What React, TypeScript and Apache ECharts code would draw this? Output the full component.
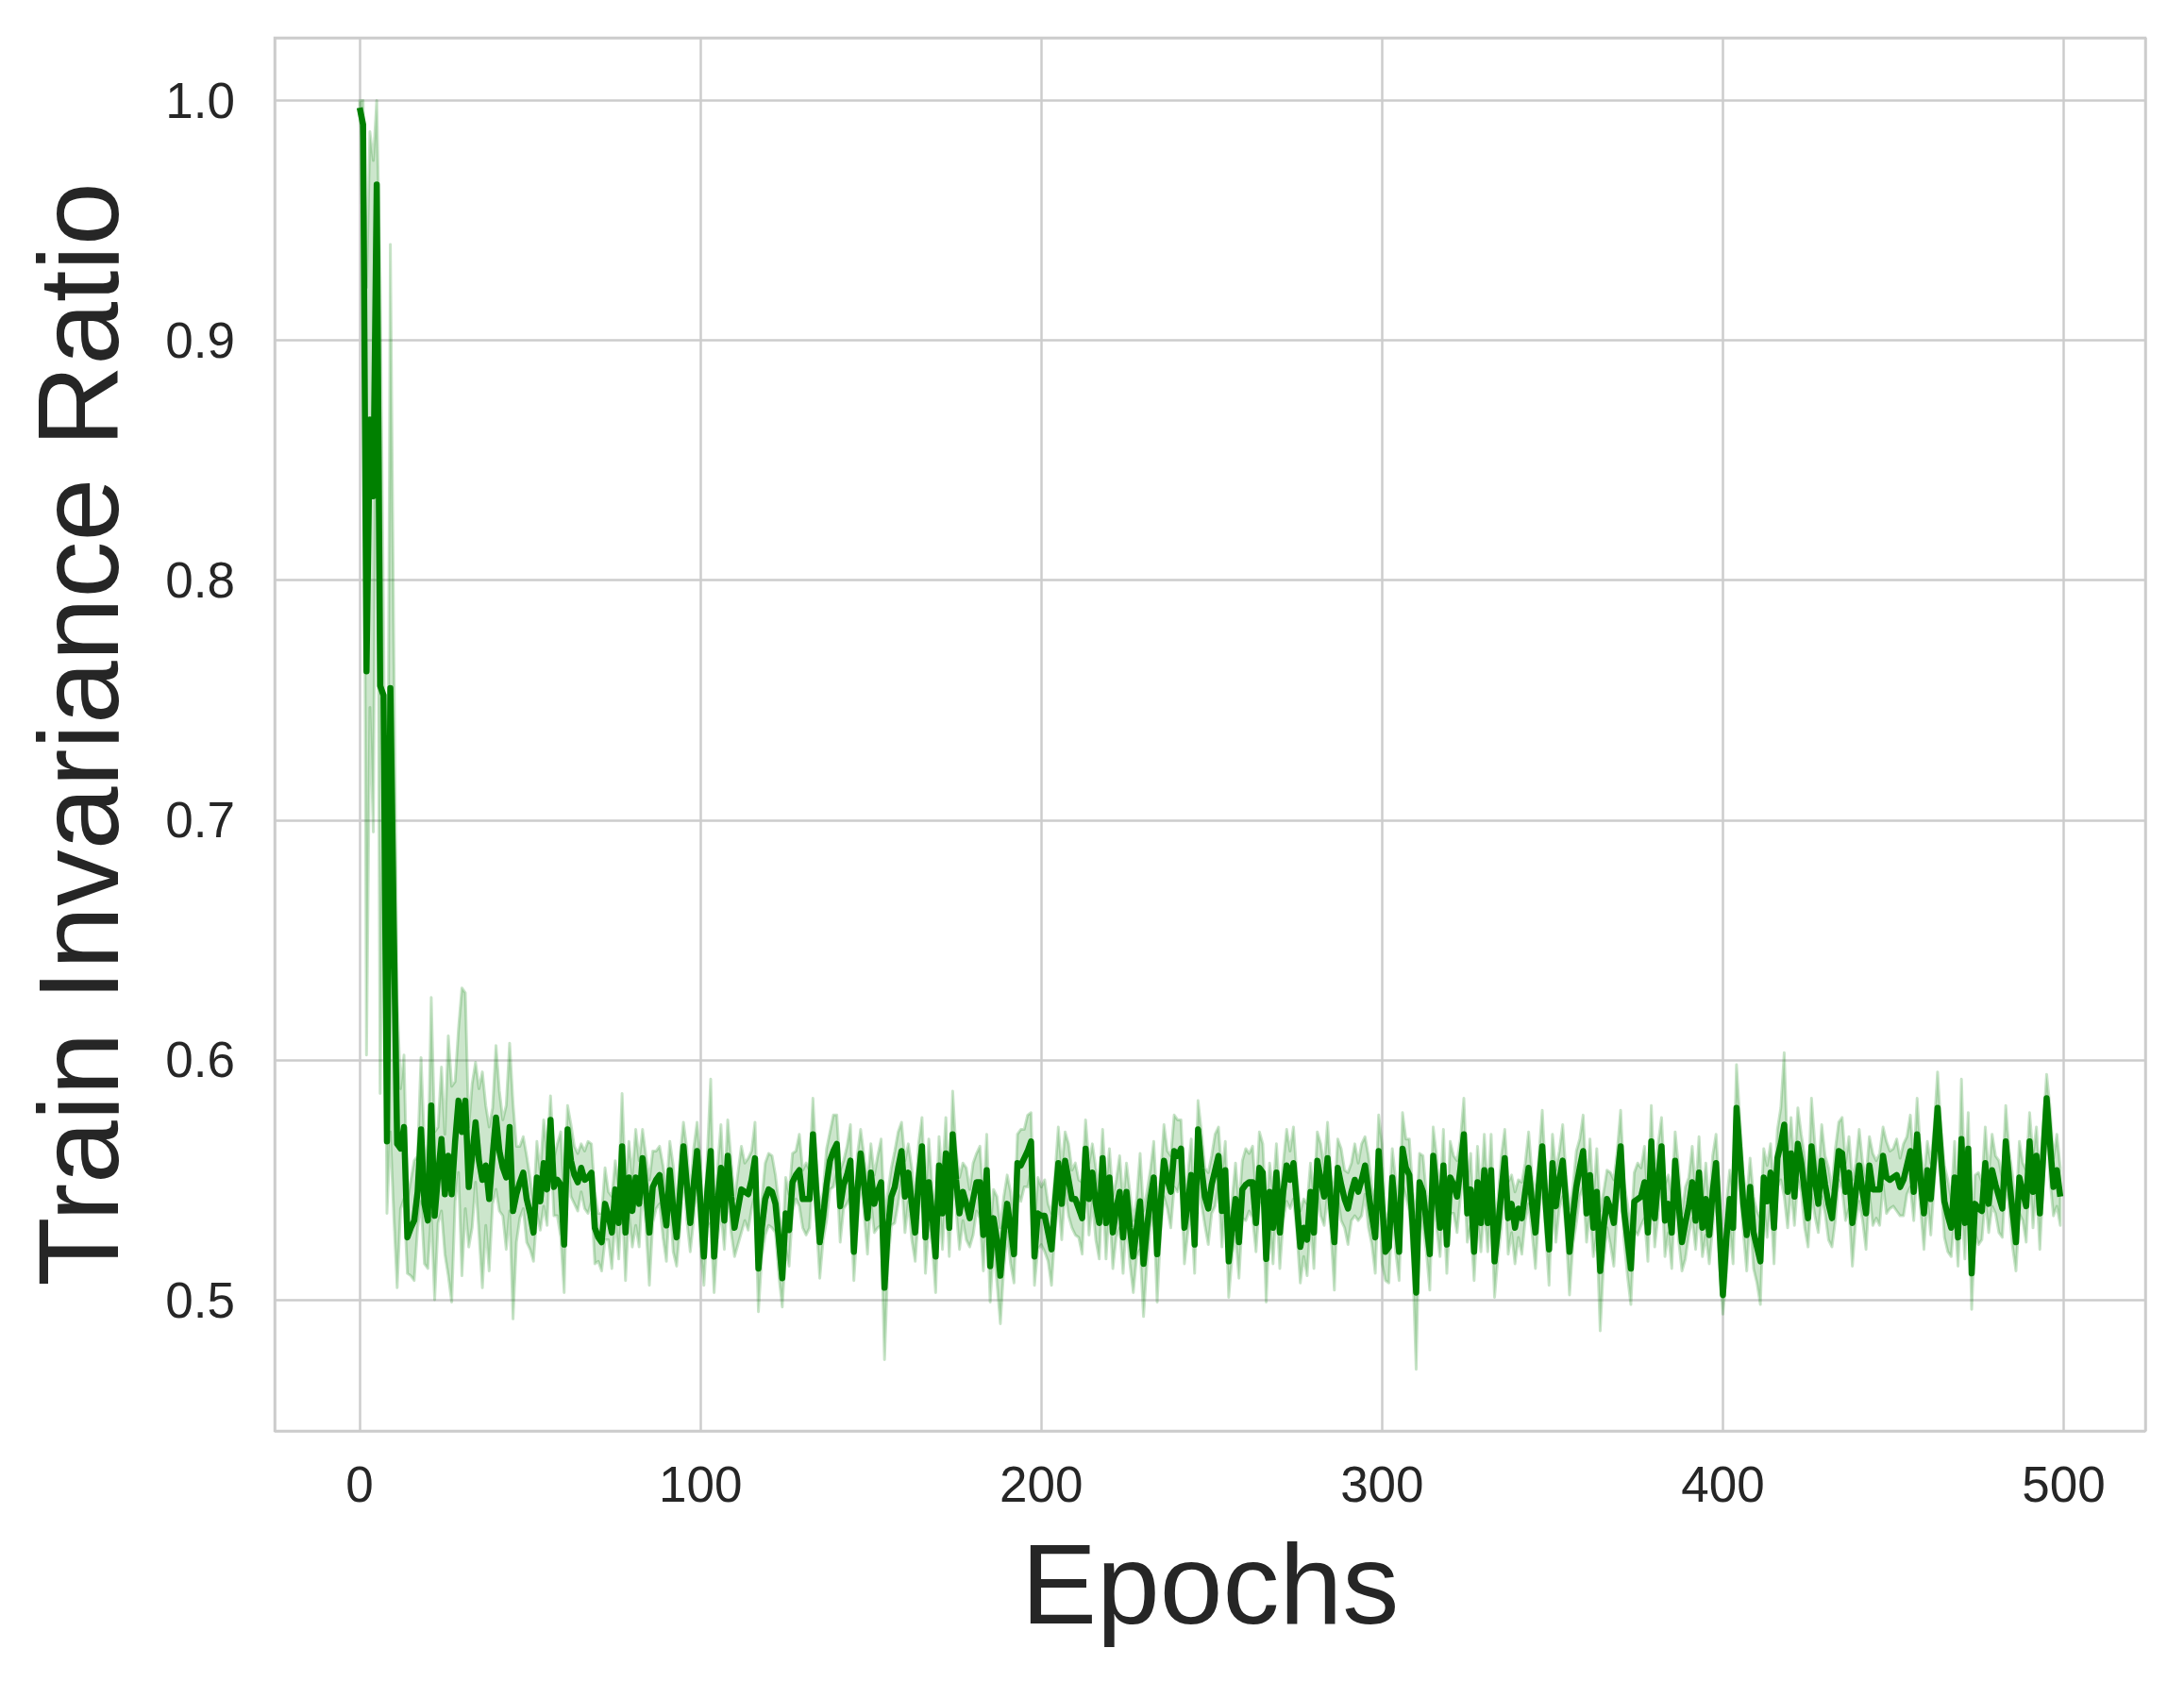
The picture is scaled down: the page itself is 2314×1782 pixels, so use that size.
import React, { useEffect, useRef } from "react";
import * as echarts from "echarts";

// Mean train invariance ratio per epoch (epoch = index, 0..499)
const meanRatio: number[] = [
  0.997, 0.990, 0.762, 0.867, 0.835, 0.965, 0.756, 0.752, 0.566, 0.755,
  0.655, 0.565, 0.563, 0.572, 0.526, 0.530, 0.533, 0.545, 0.571, 0.540,
  0.533, 0.581, 0.535, 0.552, 0.567, 0.544, 0.560, 0.544, 0.566, 0.583,
  0.570, 0.583, 0.547, 0.560, 0.574, 0.558, 0.550, 0.556, 0.542, 0.560,
  0.576, 0.562, 0.555, 0.551, 0.572, 0.537, 0.544, 0.549, 0.553, 0.542,
  0.536, 0.528, 0.551, 0.541, 0.557, 0.546, 0.575, 0.547, 0.550, 0.548,
  0.523, 0.571, 0.558, 0.552, 0.549, 0.555, 0.550, 0.551, 0.553, 0.530,
  0.526, 0.524, 0.540, 0.535, 0.528, 0.546, 0.532, 0.564, 0.528, 0.551,
  0.537, 0.551, 0.540, 0.559, 0.545, 0.528, 0.547, 0.550, 0.552, 0.541,
  0.531, 0.554, 0.538, 0.526, 0.545, 0.564, 0.548, 0.532, 0.548, 0.562,
  0.540, 0.518, 0.545, 0.562, 0.518, 0.540, 0.555, 0.533, 0.560, 0.543,
  0.530, 0.538, 0.546, 0.545, 0.544, 0.550, 0.559, 0.513, 0.530, 0.542,
  0.546, 0.545, 0.540, 0.525, 0.509, 0.536, 0.529, 0.549, 0.552, 0.554,
  0.542, 0.542, 0.542, 0.569, 0.545, 0.524, 0.535, 0.548, 0.558, 0.562,
  0.565, 0.539, 0.548, 0.552, 0.558, 0.520, 0.545, 0.561, 0.548, 0.534,
  0.553, 0.540, 0.545, 0.549, 0.505, 0.530, 0.543, 0.547, 0.555, 0.562,
  0.543, 0.553, 0.540, 0.528, 0.550, 0.564, 0.526, 0.549, 0.535, 0.518,
  0.556, 0.536, 0.561, 0.530, 0.569, 0.550, 0.536, 0.545, 0.540, 0.534,
  0.542, 0.549, 0.549, 0.527, 0.554, 0.514, 0.534, 0.525, 0.510, 0.528,
  0.540, 0.530, 0.519, 0.557, 0.556, 0.559, 0.562, 0.566, 0.518, 0.536,
  0.535, 0.535, 0.528, 0.521, 0.540, 0.557, 0.540, 0.558, 0.550, 0.542,
  0.542, 0.538, 0.534, 0.563, 0.542, 0.553, 0.540, 0.532, 0.559, 0.532,
  0.551, 0.528, 0.538, 0.545, 0.526, 0.545, 0.530, 0.518, 0.530, 0.541,
  0.515, 0.530, 0.542, 0.551, 0.519, 0.540, 0.558, 0.550, 0.545, 0.562,
  0.560, 0.563, 0.530, 0.540, 0.552, 0.523, 0.571, 0.555, 0.543, 0.538,
  0.548, 0.554, 0.560, 0.537, 0.554, 0.516, 0.530, 0.542, 0.524, 0.546,
  0.548, 0.549, 0.549, 0.532, 0.555, 0.553, 0.517, 0.545, 0.530, 0.553,
  0.528, 0.545, 0.556, 0.550, 0.557, 0.540, 0.522, 0.530, 0.525, 0.545,
  0.528, 0.558, 0.550, 0.543, 0.559, 0.540, 0.524, 0.555, 0.548, 0.542,
  0.538, 0.545, 0.550, 0.545, 0.550, 0.556, 0.545, 0.535, 0.526, 0.562,
  0.540, 0.520, 0.522, 0.551, 0.535, 0.520, 0.563, 0.555, 0.552, 0.530,
  0.503, 0.549, 0.545, 0.532, 0.519, 0.560, 0.545, 0.530, 0.556, 0.523,
  0.551, 0.548, 0.543, 0.555, 0.569, 0.536, 0.546, 0.520, 0.549, 0.532,
  0.554, 0.532, 0.554, 0.516, 0.530, 0.545, 0.559, 0.534, 0.540, 0.530,
  0.538, 0.534, 0.545, 0.555, 0.540, 0.528, 0.548, 0.564, 0.540, 0.521,
  0.557, 0.539, 0.550, 0.558, 0.540, 0.520, 0.535, 0.547, 0.555, 0.562,
  0.536, 0.552, 0.530, 0.545, 0.512, 0.530, 0.542, 0.538, 0.532, 0.550,
  0.564, 0.537, 0.525, 0.513, 0.541, 0.542, 0.543, 0.549, 0.528, 0.566,
  0.534, 0.550, 0.564, 0.533, 0.540, 0.528, 0.558, 0.540, 0.524, 0.532,
  0.539, 0.549, 0.533, 0.553, 0.530, 0.542, 0.527, 0.545, 0.557, 0.530,
  0.502, 0.525, 0.542, 0.530, 0.580, 0.560, 0.540, 0.527, 0.547, 0.528,
  0.522, 0.516, 0.551, 0.541, 0.553, 0.530, 0.559, 0.565, 0.573, 0.545,
  0.561, 0.543, 0.565, 0.557, 0.545, 0.534, 0.564, 0.550, 0.540, 0.558,
  0.548, 0.540, 0.534, 0.548, 0.562, 0.561, 0.545, 0.553, 0.532, 0.545,
  0.556, 0.545, 0.536, 0.556, 0.546, 0.546, 0.546, 0.560, 0.551, 0.550,
  0.551, 0.552, 0.547, 0.550, 0.556, 0.562, 0.545, 0.569, 0.550, 0.536,
  0.554, 0.542, 0.560, 0.580, 0.560, 0.541, 0.535, 0.530, 0.551, 0.526,
  0.567, 0.532, 0.563, 0.511, 0.540, 0.538, 0.537, 0.557, 0.540, 0.554,
  0.548, 0.543, 0.538, 0.566, 0.550, 0.537, 0.524, 0.551, 0.545, 0.539,
  0.566, 0.545, 0.560, 0.536, 0.560, 0.584, 0.565, 0.547, 0.554, 0.543,
];

// Half-width of the shaded confidence band per epoch
const ciHalf: number[] = [
  0.003, 0.010, 0.160, 0.120, 0.140, 0.035, 0.170, 0.030, 0.030, 0.185,
  0.120, 0.060, 0.025, 0.030, 0.015, 0.020, 0.025, 0.015, 0.030, 0.025,
  0.020, 0.045, 0.035, 0.020, 0.030, 0.025, 0.050, 0.045, 0.025, 0.030,
  0.060, 0.045, 0.025, 0.030, 0.025, 0.030, 0.045, 0.025, 0.030, 0.020,
  0.030, 0.025, 0.020, 0.030, 0.035, 0.045, 0.020, 0.015, 0.015, 0.018,
  0.015, 0.012, 0.015, 0.012, 0.018, 0.015, 0.010, 0.012, 0.015, 0.022,
  0.020, 0.010, 0.015, 0.012, 0.012, 0.010, 0.012, 0.015, 0.012, 0.015,
  0.010, 0.012, 0.015, 0.010, 0.015, 0.012, 0.015, 0.022, 0.020, 0.015,
  0.015, 0.020, 0.018, 0.012, 0.015, 0.022, 0.015, 0.012, 0.012, 0.015,
  0.015, 0.012, 0.018, 0.012, 0.015, 0.010, 0.015, 0.012, 0.015, 0.012,
  0.018, 0.012, 0.015, 0.030, 0.015, 0.015, 0.018, 0.012, 0.015, 0.015,
  0.012, 0.015, 0.018, 0.012, 0.015, 0.012, 0.015, 0.018, 0.012, 0.015,
  0.015, 0.015, 0.012, 0.015, 0.012, 0.015, 0.015, 0.012, 0.010, 0.015,
  0.012, 0.015, 0.012, 0.015, 0.012, 0.015, 0.010, 0.015, 0.012, 0.015,
  0.012, 0.015, 0.010, 0.012, 0.015, 0.012, 0.015, 0.010, 0.012, 0.015,
  0.012, 0.012, 0.015, 0.018, 0.030, 0.015, 0.012, 0.015, 0.015, 0.012,
  0.015, 0.012, 0.015, 0.012, 0.015, 0.012, 0.015, 0.018, 0.012, 0.015,
  0.012, 0.015, 0.015, 0.012, 0.018, 0.012, 0.015, 0.012, 0.015, 0.012,
  0.015, 0.012, 0.015, 0.015, 0.015, 0.015, 0.012, 0.018, 0.020, 0.015,
  0.012, 0.015, 0.012, 0.012, 0.015, 0.012, 0.015, 0.012, 0.012, 0.015,
  0.012, 0.015, 0.012, 0.015, 0.012, 0.015, 0.015, 0.012, 0.015, 0.012,
  0.015, 0.012, 0.015, 0.012, 0.015, 0.012, 0.015, 0.015, 0.012, 0.015,
  0.012, 0.015, 0.012, 0.015, 0.015, 0.012, 0.015, 0.015, 0.012, 0.020,
  0.022, 0.015, 0.012, 0.015, 0.020, 0.012, 0.015, 0.012, 0.015, 0.015,
  0.015, 0.012, 0.015, 0.012, 0.015, 0.012, 0.012, 0.015, 0.012, 0.015,
  0.012, 0.015, 0.012, 0.015, 0.012, 0.015, 0.012, 0.015, 0.015, 0.012,
  0.015, 0.012, 0.015, 0.012, 0.015, 0.012, 0.018, 0.012, 0.015, 0.012,
  0.015, 0.012, 0.015, 0.012, 0.015, 0.012, 0.015, 0.012, 0.015, 0.012,
  0.015, 0.012, 0.015, 0.012, 0.015, 0.012, 0.020, 0.012, 0.015, 0.012,
  0.015, 0.012, 0.015, 0.012, 0.015, 0.012, 0.015, 0.012, 0.015, 0.015,
  0.025, 0.012, 0.015, 0.012, 0.015, 0.012, 0.015, 0.012, 0.015, 0.015,
  0.032, 0.012, 0.015, 0.012, 0.015, 0.012, 0.015, 0.012, 0.015, 0.012,
  0.015, 0.012, 0.015, 0.012, 0.015, 0.012, 0.015, 0.012, 0.015, 0.012,
  0.015, 0.012, 0.015, 0.015, 0.012, 0.015, 0.012, 0.015, 0.012, 0.015,
  0.012, 0.015, 0.012, 0.015, 0.012, 0.015, 0.012, 0.015, 0.012, 0.015,
  0.012, 0.015, 0.012, 0.015, 0.012, 0.018, 0.012, 0.015, 0.012, 0.015,
  0.012, 0.015, 0.012, 0.018, 0.025, 0.015, 0.012, 0.015, 0.018, 0.012,
  0.015, 0.012, 0.015, 0.015, 0.012, 0.015, 0.012, 0.015, 0.012, 0.015,
  0.012, 0.015, 0.012, 0.015, 0.012, 0.015, 0.012, 0.015, 0.012, 0.015,
  0.012, 0.015, 0.012, 0.015, 0.012, 0.015, 0.012, 0.015, 0.012, 0.015,
  0.008, 0.015, 0.012, 0.015, 0.018, 0.015, 0.012, 0.015, 0.012, 0.015,
  0.015, 0.018, 0.012, 0.015, 0.012, 0.015, 0.012, 0.015, 0.030, 0.015,
  0.015, 0.012, 0.015, 0.012, 0.015, 0.012, 0.020, 0.015, 0.012, 0.015,
  0.012, 0.015, 0.012, 0.015, 0.012, 0.015, 0.012, 0.015, 0.018, 0.012,
  0.015, 0.012, 0.015, 0.012, 0.015, 0.012, 0.015, 0.012, 0.015, 0.012,
  0.012, 0.015, 0.012, 0.015, 0.012, 0.015, 0.012, 0.015, 0.012, 0.015,
  0.012, 0.015, 0.012, 0.015, 0.012, 0.015, 0.015, 0.012, 0.015, 0.012,
  0.025, 0.015, 0.015, 0.015, 0.012, 0.015, 0.012, 0.015, 0.012, 0.015,
  0.012, 0.015, 0.012, 0.015, 0.012, 0.015, 0.012, 0.015, 0.012, 0.015,
  0.012, 0.015, 0.012, 0.015, 0.012, 0.010, 0.015, 0.012, 0.015, 0.012,
];

const xAxisTitle = "Epochs";
const yAxisTitle = "Train Invariance Ratio";

const FONT = "'Liberation Sans', Arial, 'DejaVu Sans', sans-serif";
const TEXT = "#262626";
const GRID = "#cccccc";
const GREEN = "#008000";

export default function App() {
  const ref = useRef<HTMLDivElement>(null);

  useEffect(() => {
    document.body.style.margin = "0";
    const chart = echarts.init(ref.current!, null, { renderer: "svg" });

    const epochs = meanRatio.map((_, i) => i);
    const lineData = epochs.map((e, i) => [e, meanRatio[i]]);
    const upper = meanRatio.map((m, i) => m + ciHalf[i]);
    const lower = meanRatio.map((m, i) => m - ciHalf[i]);

    chart.setOption({
      animation: false,
      backgroundColor: "#ffffff",
      grid: {
        left: 291,
        top: 40,
        width: 1982,
        height: 1476,
        show: true,
        borderColor: GRID,
        borderWidth: 2.5,
        backgroundColor: "#ffffff",
      },
      xAxis: {
        type: "value",
        min: -24.95,
        max: 523.95,
        splitNumber: 5,
        axisLine: { show: false },
        axisTick: { show: false },
        splitLine: { show: true, lineStyle: { color: GRID, width: 2.5 } },
        axisLabel: {
          showMinLabel: false,
          showMaxLabel: false,
          fontSize: 53,
          color: TEXT,
          fontFamily: FONT,
          margin: 30,
          formatter: (v: number) => String(Math.round(v)),
        },
        name: xAxisTitle,
        nameLocation: "middle",
        nameGap: 102,
        nameTextStyle: { fontSize: 120, color: TEXT, fontFamily: FONT },
      },
      yAxis: {
        type: "value",
        min: 0.4453,
        max: 1.0262,
        splitNumber: 5,
        axisLine: { show: false },
        axisTick: { show: false },
        splitLine: { show: true, lineStyle: { color: GRID, width: 2.5 } },
        axisLabel: {
          showMinLabel: false,
          showMaxLabel: false,
          fontSize: 53,
          color: TEXT,
          fontFamily: FONT,
          margin: 42,
          formatter: (v: number) => v.toFixed(1),
        },
        name: yAxisTitle,
        nameLocation: "middle",
        nameGap: 148,
        nameRotate: 90,
        nameTextStyle: { fontSize: 120, color: TEXT, fontFamily: FONT },
      },
      series: [
        {
          type: "custom",
          silent: true,
          z: 1,
          data: [[0, meanRatio[0]]],
          encode: { x: 0, y: 1 },
          renderItem: (params: any, api: any) => {
            const pts: number[][] = [];
            for (let i = 0; i < epochs.length; i++) pts.push(api.coord([epochs[i], upper[i]]));
            for (let i = epochs.length - 1; i >= 0; i--) pts.push(api.coord([epochs[i], lower[i]]));
            return {
              type: "polygon",
              shape: { points: pts },
              style: {
                fill: "rgba(0,128,0,0.2)",
                stroke: "rgba(0,128,0,0.22)",
                lineWidth: 3,
                lineJoin: "round",
              },
            };
          },
        },
        {
          type: "line",
          z: 3,
          data: lineData,
          showSymbol: false,
          symbol: "none",
          lineStyle: { color: GREEN, width: 6.5, join: "round", cap: "butt" },
        },
      ],
    });

    return () => chart.dispose();
  }, []);

  return <div ref={ref} style={{ width: 2314, height: 1782 }} />;
}
